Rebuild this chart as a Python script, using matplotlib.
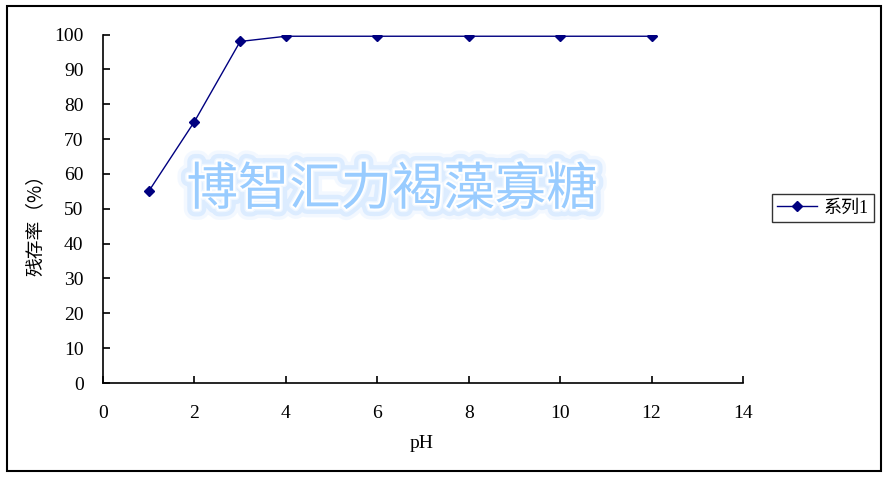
import matplotlib
matplotlib.use("Agg")
import matplotlib.pyplot as plt
import matplotlib.patheffects as pe
from matplotlib.patches import Rectangle

# data
ph = [1, 2, 3, 4, 6, 8, 10, 12]
residual = [55, 75, 98, 99.5, 99.5, 99.5, 99.5, 99.5]
series_name = "系列1"
x_ticks = [0, 2, 4, 6, 8, 10, 12, 14]
y_ticks = [0, 10, 20, 30, 40, 50, 60, 70, 80, 90, 100]
watermark = "博智汇力褐藻寡糖"

W, H = 889, 478
plt.rcParams['font.family'] = ['Liberation Serif', 'Noto Sans CJK SC', 'DejaVu Sans']

fig = plt.figure(figsize=(W / 100, H / 100), dpi=100)
ax = fig.add_axes([103 / W, 1 - 383 / H, (743 - 103) / W, (383 - 34.5) / H])

line, = ax.plot(ph, residual, color='#000080', lw=1, marker='D', markersize=5,
                label=series_name)

ax.set_xlim(0, 14)
ax.set_ylim(0, 100)
ax.set_xticks(x_ticks)
ax.set_yticks(y_ticks)
ax.spines['top'].set_visible(False)
ax.spines['right'].set_visible(False)
for s in ['left', 'bottom']:
    ax.spines[s].set_linewidth(1.2)
ax.tick_params(direction='in', length=5, width=1.2, labelsize=14)
ax.tick_params(axis='y', pad=14)
ax.tick_params(axis='x', pad=16)

fig.text(422 / W, 1 - 443 / H, "pH", ha='center', va='center', fontsize=14)
fig.text(35 / W, 1 - 220 / H, "残存率（%）", rotation=90, ha='center', va='center',
         fontsize=13.5, family=['Noto Sans CJK SC', 'DejaVu Sans'])

# glowing watermark
glow = [pe.Stroke(linewidth=16, foreground='#d8ebff', alpha=0.3),
        pe.Stroke(linewidth=11, foreground='#c2dfff', alpha=0.45),
        pe.Stroke(linewidth=5, foreground='#eef6ff'),
        pe.Stroke(linewidth=3, foreground='white'),
        pe.Normal()]
fig.text(392 / W, 1 - 190 / H, watermark, ha='center', va='center', fontsize=37,
         color='#99ccff', weight='light', family=['Noto Sans CJK SC'],
         path_effects=glow)

leg = fig.legend(handles=[line], loc='center', bbox_to_anchor=(823 / W, 1 - 208 / H),
                 frameon=True, fancybox=False, handlelength=2.2,
                 borderpad=0.3, handletextpad=0.4,
                 prop={'family': ['Liberation Serif', 'Noto Sans CJK SC'], 'size': 13})
leg.get_frame().set_edgecolor('black')
leg.get_frame().set_linewidth(1)

fig.patches.append(Rectangle((7 / W, 7 / H), (881 - 7) / W, (472 - 7) / H,
                             transform=fig.transFigure, fill=False,
                             edgecolor='black', lw=1.5))

fig.savefig("out.png", dpi=100)
